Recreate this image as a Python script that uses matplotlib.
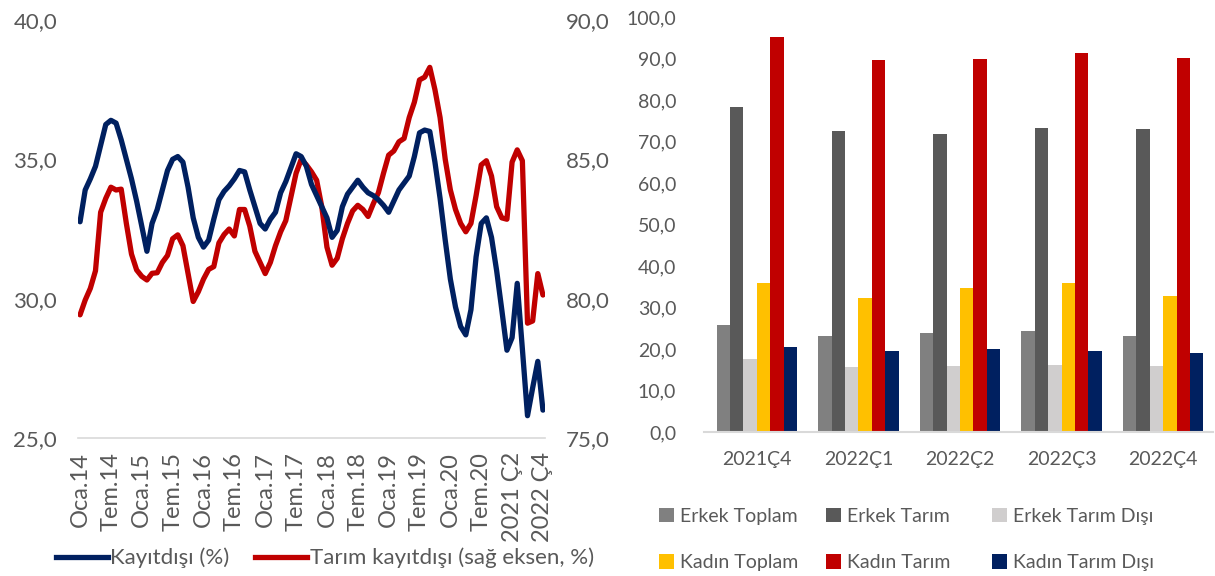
import matplotlib
matplotlib.use("Agg")
import matplotlib.pyplot as plt
from matplotlib.lines import Line2D
from matplotlib.patches import Patch
import numpy as np

plt.rcParams['font.family'] = ['Lato', 'DejaVu Sans']

# ---------------- Left chart data ----------------
kayitdisi = [32.76, 33.9, 34.3, 34.75, 35.5, 36.25, 36.4, 36.3, 35.7, 35.0,
             34.3, 33.5, 32.6, 31.7, 32.7, 33.2, 33.9, 34.6, 35.0, 35.1,
             34.9, 34.0, 32.9, 32.2, 31.85, 32.1, 32.85, 33.55, 33.85, 34.05,
             34.3, 34.6, 34.55, 33.9, 33.3, 32.7, 32.5, 32.85, 33.1, 33.8,
             34.2, 34.7, 35.2, 35.1, 34.75, 34.1, 33.7, 33.3, 32.9, 32.2,
             32.45, 33.3, 33.75, 34.0, 34.25, 34.0, 33.8, 33.7, 33.55, 33.35,
             33.1, 33.5, 33.9, 34.15, 34.4, 35.1, 35.95, 36.05, 36.0, 34.9,
             33.6, 32.1, 30.7, 29.7, 29.0, 28.7, 29.6, 31.5, 32.7, 32.9,
             32.2, 31.0, 29.6, 28.15, 28.6, 30.55, 28.2, 25.8, 26.8, 27.75,
             26.0]
tarim_kayitdisi = [79.42, 79.95, 80.37, 81.0, 83.1, 83.6, 84.0, 83.9, 83.93, 82.7,
                   81.6, 81.03, 80.8, 80.67, 80.91, 80.93, 81.3, 81.55, 82.15, 82.29,
                   81.9, 80.9, 79.9, 80.25, 80.7, 81.05, 81.15, 82.0, 82.3, 82.5,
                   82.25, 83.2, 83.2, 82.6, 81.7, 81.3, 80.9, 81.3, 81.9, 82.4,
                   82.8, 83.65, 84.5, 85.0, 84.8, 84.55, 84.25, 83.3, 81.85, 81.2,
                   81.45, 82.15, 82.7, 83.15, 83.35, 83.2, 82.95, 83.4, 83.8, 84.5,
                   85.15, 85.3, 85.63, 85.75, 86.5, 87.05, 87.85, 87.95, 88.3, 87.5,
                   86.5, 85.0, 83.9, 83.2, 82.7, 82.4, 82.7, 83.7, 84.8, 84.95,
                   84.4, 83.3, 82.9, 82.85, 84.9, 85.34, 84.95, 79.12, 79.2, 80.9,
                   80.13]
x_tick_labels = ['Oca.14', 'Tem.14', 'Oca.15', 'Tem.15', 'Oca.16', 'Tem.16',
                 'Oca.17', 'Tem.17', 'Oca.18', 'Tem.18', 'Oca.19', 'Tem.19',
                 'Oca.20', 'Tem.20', '2021 Ç2', '2022 Ç4']
line_labels = ['Kayıtdışı (%)', 'Tarım kayıtdışı (sağ eksen, %)']

# ---------------- Right chart data ----------------
quarters = ['2021Ç4', '2022Ç1', '2022Ç2', '2022Ç3', '2022Ç4']
bar_series = ['Erkek Toplam', 'Erkek Tarım', 'Erkek Tarım Dışı',
              'Kadın Toplam', 'Kadın Tarım', 'Kadın Tarım Dışı']
erkek_toplam = [25.9, 23.2, 23.9, 24.4, 23.2]
erkek_tarim = [78.2, 72.5, 71.8, 73.3, 73.1]
erkek_tarim_disi = [17.5, 15.6, 15.9, 16.2, 16.0]
kadin_toplam = [36.0, 32.4, 34.7, 35.9, 32.8]
kadin_tarim = [95.2, 89.6, 89.8, 91.3, 90.0]
kadin_tarim_disi = [20.6, 19.5, 20.0, 19.5, 19.1]

NAVY = '#002060'
RED = '#C00000'
TXT = '#595959'
AXL = '#D9D9D9'
bar_colors = ['#808080', '#595959', '#D0CECE', '#FFC000', RED, NAVY]

fig = plt.figure(figsize=(12.15, 5.76), dpi=100)
FS = 14
LFS_Y = 16
LFS_X = 17
LFS_LEG = 16
LW = 3.8

# ---------------- Left chart ----------------
ax = fig.add_axes([78/1215, 1-438/576, 467/1215, 418/576])
ax2 = ax.twinx()
n = len(kayitdisi)
xs = np.arange(n)
ax.plot(xs, kayitdisi, color=NAVY, lw=LW, solid_capstyle='round', solid_joinstyle='round', zorder=3)
ax2.plot(xs, tarim_kayitdisi, color=RED, lw=LW, solid_capstyle='round', solid_joinstyle='round')
ax.set_zorder(ax2.get_zorder() + 1)
ax.patch.set_visible(False)
ax.set_xlim(-0.4, n - 1 + 0.4)
ax.set_ylim(25, 40)
ax2.set_ylim(75, 90)
ax.set_yticks([25, 30, 35, 40])
ax.set_yticklabels(['25,0', '30,0', '35,0', '40,0'])
ax2.set_yticks([75, 80, 85, 90])
ax2.set_yticklabels(['75,0', '80,0', '85,0', '90,0'])
ax.set_xticks(np.arange(0, n, 6))
ax.set_xticklabels(x_tick_labels, rotation=90)
for a in (ax, ax2):
    for s in a.spines.values():
        s.set_visible(False)
    a.tick_params(length=0, labelsize=LFS_Y, colors=TXT)
ax.tick_params(axis='x', labelsize=LFS_X, pad=10)
ax.spines['bottom'].set_visible(True)
ax.spines['bottom'].set_color(AXL)
ax.spines['bottom'].set_linewidth(1.2)
ax.tick_params(axis='y', pad=15)
ax2.tick_params(axis='y', pad=15)

handles = [Line2D([0], [0], color=NAVY, lw=LW), Line2D([0], [0], color=RED, lw=LW)]
fig.legend(handles, line_labels, loc='center left', bbox_to_anchor=(56/1215, 1-558/576),
           ncol=2, frameon=False, fontsize=LFS_LEG, handlelength=2.35, handletextpad=0.1,
           columnspacing=1.15, labelcolor=TXT, borderaxespad=0, borderpad=0)

# ---------------- Right chart ----------------
bx = fig.add_axes([704/1215, 1-432/576, 509/1215, 415/576])
data = [erkek_toplam, erkek_tarim, erkek_tarim_disi, kadin_toplam, kadin_tarim, kadin_tarim_disi]
w = 0.132
gx = np.arange(len(quarters))
for k, (vals, col) in enumerate(zip(data, bar_colors)):
    bx.bar(gx + (k - 2.5) * w, vals, width=w, color=col, label=bar_series[k], zorder=2)
bx.set_xlim(-0.52, 4.49)
bx.set_ylim(0, 100)
bx.set_yticks(np.arange(0, 101, 10))
bx.set_yticklabels([f'{v},0' for v in range(0, 101, 10)])
bx.set_xticks(gx)
bx.set_xticklabels(quarters)
for s in bx.spines.values():
    s.set_visible(False)
bx.spines['bottom'].set_visible(True)
bx.spines['bottom'].set_color(AXL)
bx.spines['bottom'].set_linewidth(1.5)
bx.spines['bottom'].set_zorder(3)
bx.tick_params(length=0, labelsize=FS, colors=TXT)
bx.tick_params(axis='y', pad=20)
bx.tick_params(axis='x', pad=14)

col_x = [659, 826, 992]
for c in range(3):
    hs = [Patch(facecolor=bar_colors[c]), Patch(facecolor=bar_colors[c + 3])]
    ls = [bar_series[c], bar_series[c + 3]]
    fig.legend(hs, ls, loc='upper left', bbox_to_anchor=(col_x[c]/1215, 1-508/576),
               ncol=1, frameon=False, fontsize=FS, handlelength=0.75, handleheight=0.75,
               handletextpad=0.35, labelspacing=1.5, labelcolor=TXT,
               borderaxespad=0, borderpad=0)

fig.savefig('out.png', dpi=100)
